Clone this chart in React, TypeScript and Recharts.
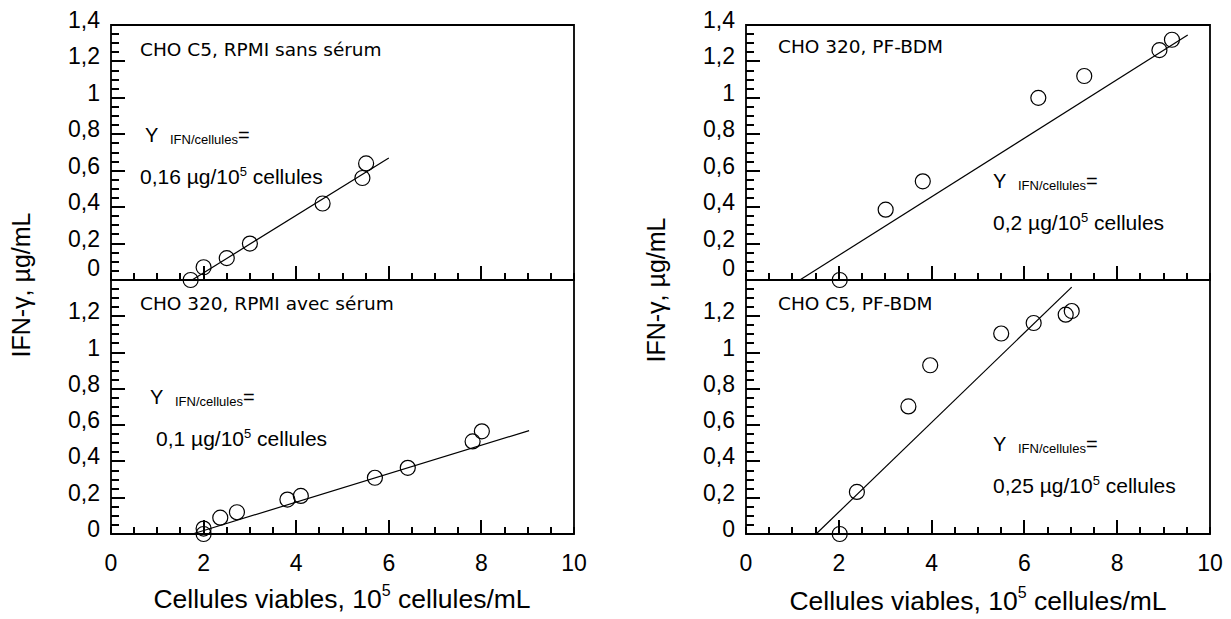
import { ScatterChart, Scatter, XAxis, YAxis, ReferenceLine, ReferenceArea } from "recharts";

// CHO C5, RPMI sans sérum
const c5RpmiX = [1.72, 2.0, 2.5, 3.0, 4.57, 5.43, 5.51];
const c5RpmiY = [0.0, 0.07, 0.12, 0.2, 0.42, 0.56, 0.64];
const c5RpmiFitX = [1.75, 6.0];
const c5RpmiFitY = [0, 0.67];

// CHO 320, RPMI avec sérum
const c320RpmiX = [2.0, 2.0, 2.36, 2.72, 3.81, 4.1, 5.7, 6.41, 7.81, 8.01];
const c320RpmiY = [0.03, 0.0, 0.09, 0.12, 0.19, 0.21, 0.31, 0.365, 0.51, 0.566];
const c320RpmiFitX = [1.76, 9.03];
const c320RpmiFitY = [0, 0.57];

// CHO 320, PF-BDM
const c320PfX = [2.02, 3.01, 3.81, 6.3, 7.29, 8.91, 9.18];
const c320PfY = [0, 0.386, 0.542, 1.0, 1.12, 1.262, 1.319];
const c320PfFitX = [1.16, 9.52];
const c320PfFitY = [0, 1.345];

// CHO C5, PF-BDM
const c5PfX = [2.02, 2.39, 3.5, 3.97, 5.5, 6.2, 6.89, 7.02];
const c5PfY = [0, 0.232, 0.703, 0.93, 1.105, 1.163, 1.209, 1.229];
const c5PfFitX = [1.51, 7.02];
const c5PfFitY = [0, 1.361];

const xMajor = [0, 2, 4, 6, 8, 10];
const yMajor = [0, 0.2, 0.4, 0.6, 0.8, 1, 1.2, 1.4];

// minor ticks every 0.5 on x, every 0.05 on y
const xTicks = Array.from({ length: 21 }, (_, i) => i / 2);
const yTicks = Array.from({ length: 29 }, (_, i) => Math.round(i * 5) / 100);

const SANS = "'Liberation Sans', Arial, sans-serif";
const VERD = "'DejaVu Sans', Verdana, sans-serif";

const toPts = (xs: number[], ys: number[]) => xs.map((x, i) => ({ x, y: ys[i] }));
const isMajor = (v: number, list: number[]) => list.some((m) => Math.abs(m - v) < 1e-6);
const fmt = (v: number) => String(v).replace(".", ",");

const Circle = (props: any) => (
  <circle cx={props.cx} cy={props.cy} r={7.5} fill="none" stroke="#000" strokeWidth={1.2} />
);

interface PanelProps {
  left: number;
  top: number;
  width: number;
  height: number;
  margin: { top: number; right: number; bottom: number; left: number };
  xs: number[];
  ys: number[];
  fitX: number[];
  fitY: number[];
  bottomRow: boolean;
}

function Panel({ left, top, width, height, margin, xs, ys, fitX, fitY, bottomRow }: PanelProps) {
  const pts = toPts(xs, ys);
  const fit = toPts(fitX, fitY);

  // inward tick marks + labels
  const yTick = (p: any) => {
    const v = p.payload.value;
    const major = isMajor(v, yMajor);
    const showLabel = major && !(bottomRow && v === 1.4);
    const dy = !bottomRow && v === 0 ? -4 : 3;
    const len = major ? 14 : 8;
    return (
      <g>
        <rect x={p.x} y={Math.round(p.y) - 1} width={len} height={2} fill="#000" stroke="none" />
        {showLabel && (
          <text x={p.x - 11} y={p.y + dy} textAnchor="end" fontSize={23} fontFamily={SANS} fill="#000" stroke="none">
            {fmt(v)}
          </text>
        )}
      </g>
    );
  };

  const xTick = (p: any) => {
    const v = p.payload.value;
    const major = isMajor(v, xMajor) && v !== 0 && v !== 10;
    const len = major ? 14 : 7;
    return (
      <g>
        <rect x={Math.round(p.x) - 1} y={p.y - len} width={2} height={len} fill="#000" stroke="none" />
        {bottomRow && isMajor(v, xMajor) && (
          <text x={p.x} y={p.y + 37} textAnchor="middle" fontSize={23} fontFamily={SANS} fill="#000" stroke="none">
            {fmt(v)}
          </text>
        )}
      </g>
    );
  };

  return (
    <div style={{ position: "absolute", left, top }}>
      <ScatterChart width={width} height={height} margin={margin} style={{ overflow: "visible" }}>
        <XAxis
          type="number"
          dataKey="x"
          domain={[0, 10]}
          ticks={xTicks}
          interval={0}
          tickSize={0}
          tickMargin={0}
          axisLine={false}
          tickLine={false}
          tick={xTick}
          height={bottomRow ? 45 : 30}
        />
        <YAxis
          type="number"
          dataKey="y"
          domain={[0, 1.4]}
          ticks={yTicks}
          interval={0}
          tickSize={0}
          tickMargin={0}
          axisLine={false}
          tickLine={false}
          tick={yTick}
          width={40}
        />
        <ReferenceArea x1={0} x2={10} y1={0} y2={1.4} fill="none" fillOpacity={0} stroke="#000" strokeWidth={1.8} />
        <ReferenceLine
          segment={[fit[0], fit[1]]}
          stroke="#000"
          strokeWidth={1.2}
          ifOverflow="visible"
        />
        <Scatter data={pts} shape={Circle} isAnimationActive={false} />
      </ScatterChart>
    </div>
  );
}

function Yield({ x, y, sx, value }: { x: number; y: number; sx: number; value: string }) {
  return (
    <g fontFamily={SANS} fill="#000">
      <text x={x} y={y} fontSize={20}>Y</text>
      <text x={x + 25} y={y + 2} fontSize={13}>IFN/cellules</text>
      <text x={x + 93} y={y} fontSize={20}>=</text>
      <text x={sx} y={y + 42} fontSize={21}>
        {value} µg/10<tspan fontSize={13} dy={-8}>5</tspan>
        <tspan dy={8}> cellules</tspan>
      </text>
    </g>
  );
}

function XTitle({ cx, y }: { cx: number; y: number }) {
  return (
    <text x={cx} y={y} textAnchor="middle" fontSize={26.5} fontFamily={SANS} fill="#000">
      Cellules viables, 10<tspan fontSize={16} dy={-12}>5</tspan>
      <tspan dy={12}> cellules/mL</tspan>
    </text>
  );
}

export default function App() {
  const topM = (l: number, r: number) => ({ top: 25, bottom: 10, left: l, right: r });
  const botM = (l: number, r: number) => ({ top: 20, bottom: 40, left: l, right: r });
  return (
    <div
      style={{
        position: "absolute",
        left: 0,
        top: 0,
        width: 1231,
        height: 619,
        background: "#fff",
        fontFamily: SANS,
      }}
    >
      <Panel left={0} top={0} width={600} height={320} margin={topM(71, 26)}
        xs={c5RpmiX} ys={c5RpmiY} fitX={c5RpmiFitX} fitY={c5RpmiFitY} bottomRow={false} />
      <Panel left={0} top={260} width={600} height={359} margin={botM(71, 26)}
        xs={c320RpmiX} ys={c320RpmiY} fitX={c320RpmiFitX} fitY={c320RpmiFitY} bottomRow={true} />
      <Panel left={620} top={0} width={611} height={320} margin={topM(86, 21)}
        xs={c320PfX} ys={c320PfY} fitX={c320PfFitX} fitY={c320PfFitY} bottomRow={false} />
      <Panel left={620} top={260} width={611} height={359} margin={botM(86, 21)}
        xs={c5PfX} ys={c5PfY} fitX={c5PfFitX} fitY={c5PfFitY} bottomRow={true} />

      <svg
        width={1231}
        height={619}
        style={{ position: "absolute", left: 0, top: 0, pointerEvents: "none" }}
      >
        <g fontFamily={VERD} fontSize={18.5} fill="#000">
          <text x={140} y={56}>CHO C5, RPMI sans sérum</text>
          <text x={140} y={310}>CHO 320, RPMI avec sérum</text>
          <text x={778} y={53}>CHO 320, PF-BDM</text>
          <text x={778} y={310}>CHO C5, PF-BDM</text>
        </g>
        <Yield x={145} y={142} sx={140} value="0,16" />
        <Yield x={150} y={404} sx={156} value="0,1" />
        <Yield x={993} y={188} sx={993} value="0,2" />
        <Yield x={993} y={451} sx={993} value="0,25" />

        <XTitle cx={342} y={608} />
        <XTitle cx={978} y={610} />
        <text transform="translate(30,285) rotate(-90)" textAnchor="middle" fontSize={25} fontFamily={SANS}>
          IFN-γ, µg/mL
        </text>
        <text transform="translate(665,290) rotate(-90)" textAnchor="middle" fontSize={25} fontFamily={SANS}>
          IFN-γ, µg/mL
        </text>
      </svg>
    </div>
  );
}
